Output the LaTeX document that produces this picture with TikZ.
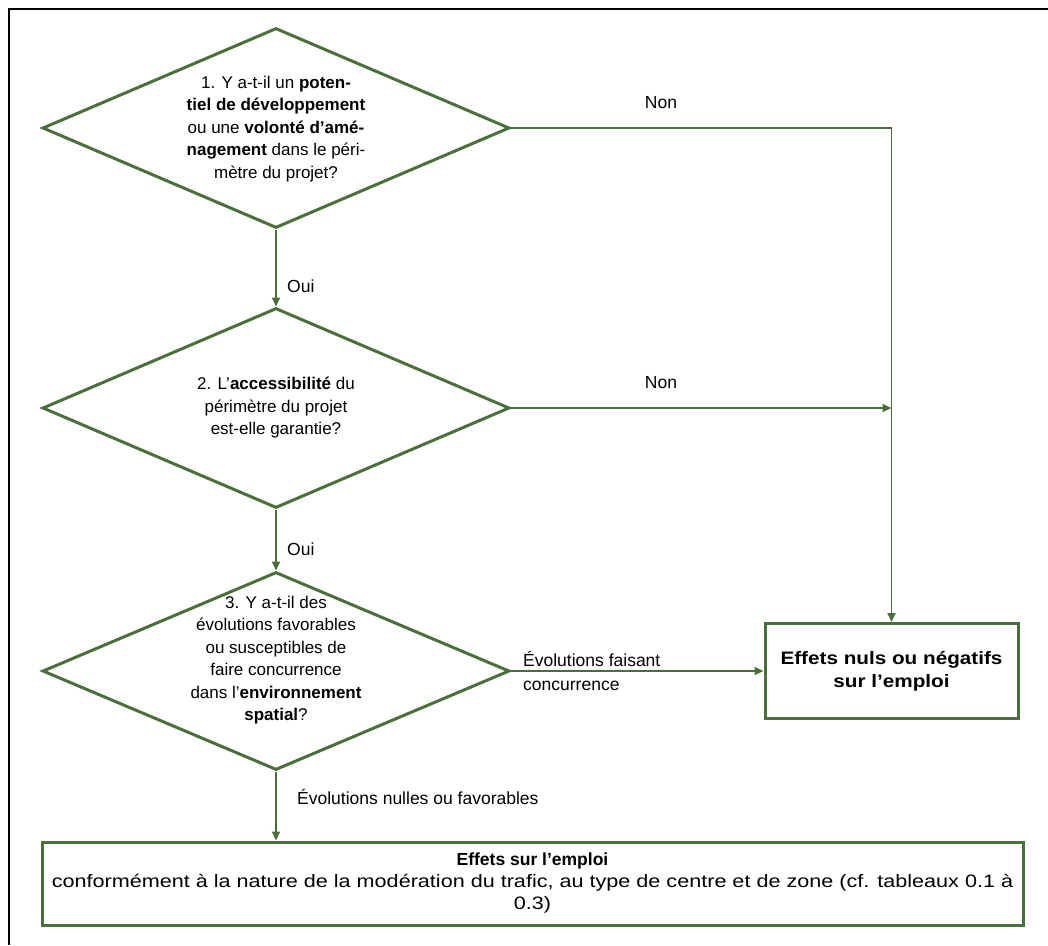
\documentclass[tikz,border=0pt]{standalone}
\usepackage{fontspec}
\setmainfont{Liberation Sans}
\newfontfamily\boxfont[FakeStretch=1.15]{Liberation Sans}
\newfontfamily\widefont[FakeStretch=1.2]{Liberation Sans}
\usetikzlibrary{shapes.geometric,arrows.meta}
\definecolor{fgreen}{RGB}{74,112,58}
\begin{document}
\begin{tikzpicture}[x=1pt,y=-1pt,
  every node/.style={font=\fontsize{17}{22.5}\selectfont, inner sep=0pt},
  dia/.style={draw=fgreen, line width=3pt, shape=diamond, minimum width=467pt, minimum height=200pt, inner sep=0pt},
  box/.style={draw=fgreen, line width=3pt},
  conn/.style={draw=fgreen, line width=1.8pt},
  arr/.style={conn, -{Triangle[length=9pt,width=8pt]}},
  lbl/.style={text=black, align=center},
  edgelbl/.style={font=\fontsize{17.5}{24}\selectfont}
]
\useasboundingbox (0,0) rectangle (1048,945);
\draw[line width=2pt] (9,945) -- (9,9) -- (1048,9);

% decisions
\node[dia] (d1) at (276,128) {};
\node[lbl] (t1) at (276,129) {1. Y a-t-il un \textbf{poten-}\\\textbf{tiel de développement}\\ou une \textbf{volonté d’amé-}\\\textbf{nagement} dans le péri-\\mètre du projet?};

\node[dia] (d2) at (276,408) {};
\node[lbl] (t2) at (276,408) {2. L’\textbf{accessibilité} du\\périmètre du projet\\est-elle garantie?};

\node[dia, minimum height=198pt] (d3) at (276,671) {};
\node[lbl] (t3) at (276,660) {3. Y a-t-il des\\évolutions favorables\\ou susceptibles de\\faire concurrence\\dans l’\textbf{environnement}\\\textbf{spatial}?};

% outcomes
\node[box, minimum width=253pt, minimum height=95pt, align=center, font=\boxfont\fontsize{18}{23}\selectfont\bfseries] (b1) at (891.5,671) {Effets nuls ou négatifs\\sur l’emploi};
\node[box, minimum width=981pt, minimum height=83pt, align=center, font=\widefont\fontsize{18}{22}\selectfont] (b2) at (532.5,883.5) {{\normalfont\fontsize{17.5}{22}\selectfont\bfseries Effets sur l’emploi}\\conformément à la nature de la modération du trafic, au type de centre et de zone (cf. tableaux 0.1 à\\0.3)};

% connectors
\draw[arr] (d1.south) -- (d2.north);
\draw[arr] (d2.south) -- (d3.north);
\draw[arr] (d1.east) -| (b1.north);
\draw[arr] (d2.east) -- (d2.east -| b1.north);
\draw[arr] (d3.east) -- (d3.east -| b1.west);
\draw[arr] (d3.south) -- (d3.south |- b2.north);

% labels
\node[edgelbl] (n1) at (661,103) {Non};
\node[edgelbl] (n2) at (661,383) {Non};
\node[edgelbl, anchor=west] (o1) at (287,286) {Oui};
\node[edgelbl, anchor=west] (o2) at (287,549) {Oui};
\node[edgelbl, anchor=west, align=left] (e1) at (523,671) {Évolutions faisant\\concurrence};
\node[edgelbl, anchor=west] (e2) at (297,797) {Évolutions nulles ou favorables};
\end{tikzpicture}
\end{document}
